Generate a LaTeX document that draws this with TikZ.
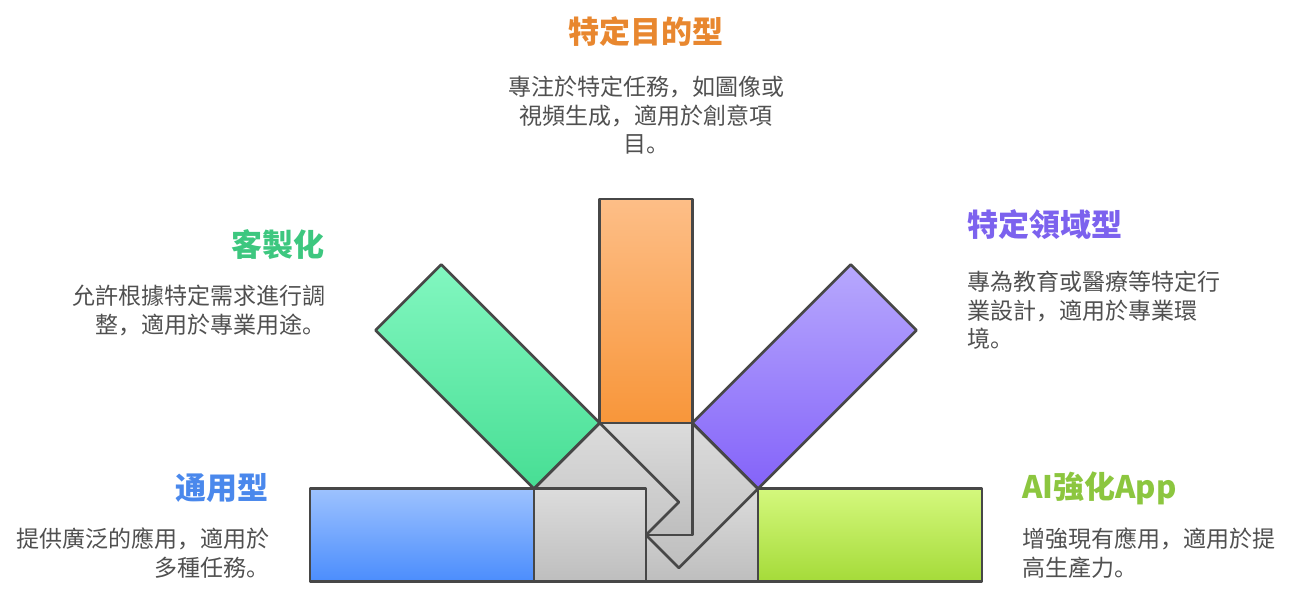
\documentclass[tikz,border=0pt]{standalone}
\usepackage{fontspec}
\setmainfont{Noto Sans CJK SC}

\begin{document}
\begin{tikzpicture}[x = 1pt, y = -1pt,
						bar/.style={draw = edgeGray, line width = 2.7pt, line join = round},
						grayPart/.style={bar, top color = partTop, bottom color = partBottom},
						title/.style={font = \fontsize{31}{36}\selectfont\bfseries, inner sep = 0pt},
						desc/.style={font = \fontsize{23}{28.5}\selectfont, text = descGray, inner sep = 0pt},
						]
	
		\definecolor{edgeGray}{HTML}{474747}
		\definecolor{descGray}{HTML}{505050}
		\definecolor{partTop}{HTML}{DCDCDC}
		\definecolor{partBottom}{HTML}{BEBEBE}
		\definecolor{blueTop}{HTML}{9DC2FE}
		\definecolor{blueBottom}{HTML}{4B8DFD}
		\definecolor{orangeTop}{HTML}{FDBE87}
		\definecolor{orangeBottom}{HTML}{F8963A}
		\definecolor{greenTop}{HTML}{82F7C0}
		\definecolor{greenBottom}{HTML}{47DE94}
		\definecolor{purpleTop}{HTML}{B7A8FD}
		\definecolor{purpleBottom}{HTML}{8463F9}
		\definecolor{limeTop}{HTML}{D4F87D}
		\definecolor{limeBottom}{HTML}{A5DB39}
		
		% Title colours
		\definecolor{orangeTitle}{HTML}{E8872F}
		\definecolor{greenTitle}{HTML}{3DC77F}
		\definecolor{purpleTitle}{HTML}{7C62EE}
		\definecolor{blueTitle}{HTML}{4A88EC}
		\definecolor{limeTitle}{HTML}{8CC63F}
		
		% Picture frame
		\useasboundingbox (0, 0) rectangle (1289, 607);
		
		% AI app bar (bottom layer)
		\draw[grayPart] (646, 488.5) rectangle (758, 581.5);
		\draw[bar, top color = limeTop, bottom color = limeBottom] (758, 488.5) rectangle (982, 581.5);
		
		% Domain bar
		\draw[grayPart] (613.1, 502.1) -- (692.3, 422.9) -- (758.1, 488.7) -- (678.9, 567.9) -- cycle;
		\draw[bar, top color = purpleTop, bottom color = purpleBottom] (692.3, 422.9) -- (850.7, 264.5) -- (916.5, 330.3) -- (758.1, 488.7) -- cycle;
		
		% Purpose bar
		\draw[grayPart] (599.5, 423) rectangle (692.5, 535);
		\draw[bar, top color = orangeTop, bottom color = orangeBottom] (599.5, 199) rectangle (692.5, 423);
		
		% Custom bar
		\draw[grayPart] (678.9, 502.1) -- (599.7, 422.9) -- (533.9, 488.7) -- (613.1, 567.9) -- cycle;
		\draw[bar, top color = greenTop, bottom color = greenBottom] (599.7, 422.9) -- (441.3, 264.5) -- (375.5, 330.3) -- (533.9, 488.7) -- cycle;
		
		% General bar (top layer)
		\draw[grayPart] (534, 488.5) rectangle (646, 581.5);
		\draw[bar, top color = blueTop, bottom color = blueBottom] (310, 488.5) rectangle (534, 581.5);
		
		% Titles
		\node[title, text = orangeTitle] (purposeTitle) at (646, 32) {特定目的型};
		\node[title, text = greenTitle, anchor = east] (customTitle) at (325, 245) {客製化};
		\node[title, text = purpleTitle, anchor = west] (domainTitle) at (967, 225) {特定領域型};
		\node[title, text = blueTitle, anchor = east] (generalTitle) at (269, 488) {通用型};
		\node[title, text = limeTitle, anchor = west] (appTitle) at (1022, 488) {AI強化App};
		
		% Descriptions
		\node[desc, align = center, anchor = north] (purposeText) at (646, 76) {專注於特定任務，如圖像或\\視頻生成，適用於創意項\\目。};
		\node[desc, align = right, anchor = north east] (customText) at (326, 285) {允許根據特定需求進行調\\整，適用於專業用途。};
		\node[desc, align = left, anchor = north west] (domainText) at (967, 271) {專為教育或醫療等特定行\\業設計，適用於專業環\\境。};
		\node[desc, align = right, anchor = north east] (generalText) at (270, 528) {提供廣泛的應用，適用於\\多種任務。};
		\node[desc, align = left, anchor = north west] (appText) at (1022, 528) {增強現有應用，適用於提\\高生產力。};
		
	\end{tikzpicture}
\end{document}
